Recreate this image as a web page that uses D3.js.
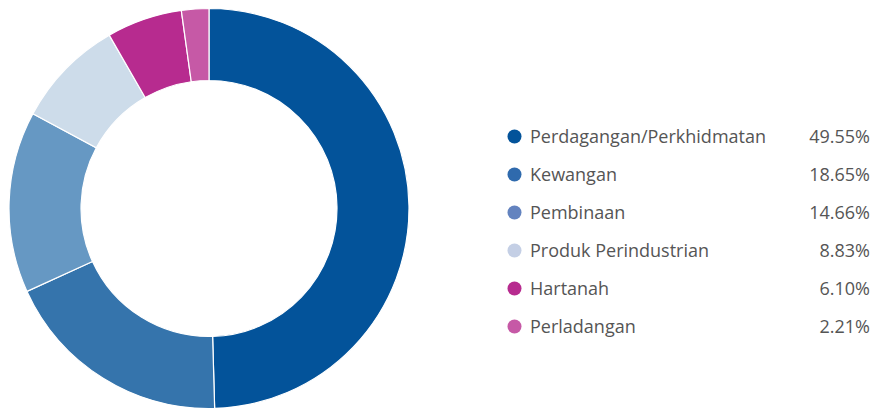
<!DOCTYPE html>
<html>
<head>
<meta charset="utf-8">
<script src="https://cdn.jsdelivr.net/npm/d3@7"></script>
<style>
  body { margin: 0; background: #fff; }
  svg { display: block; }
</style>
</head>
<body>
<div class="container-chart"></div>
<script>
// data
var categories = ["Perdagangan/Perkhidmatan", "Kewangan", "Pembinaan", "Produk Perindustrian", "Hartanah", "Perladangan"];
var values = [49.55, 18.65, 14.66, 8.83, 6.10, 2.21];
var sliceColors = ["#03539a", "#3574ac", "#6698c3", "#cddcea", "#b72b8f", "#c659a6"];
var dotColors = ["#03539a", "#2f6aad", "#6383bf", "#c4cfe5", "#b72b8f", "#c659a6"];

var width = 878;
var height = 408;

var svg = d3.select(".container-chart")
    .append("svg")
    .attr("width", width)
    .attr("height", height);

// donut
var cx = 209, cy = 208.5;
var outerR = 200, innerR = 128;

var pie = d3.pie()
    .sort(null)
    .value(function (d) { return d; });

var arc = d3.arc()
    .innerRadius(innerR)
    .outerRadius(outerR);

var g = svg.append("g")
    .attr("transform", "translate(" + cx + "," + cy + ")");

g.selectAll("path")
    .data(pie(values))
    .enter()
    .append("path")
    .attr("d", arc)
    .attr("fill", function (d, i) { return sliceColors[i]; })
    .attr("stroke", "#fff")
    .attr("stroke-width", 1.2);

// legend
var y = d3.scaleBand()
    .domain(categories)
    .range([117.5, 345.5]);

var legend = svg.append("g")
    .attr("class", "legend")
    .style("font-family", "'Open Sans', sans-serif")
    .style("font-size", "18px")
    .style("fill", "#555");

var rows = legend.selectAll(".row")
    .data(categories)
    .enter()
    .append("g")
    .attr("class", "row")
    .attr("transform", function (d) { return "translate(0," + (y(d) + y.bandwidth() / 2) + ")"; });

rows.append("circle")
    .attr("cx", 514.5)
    .attr("cy", 0)
    .attr("r", 7)
    .attr("fill", function (d, i) { return dotColors[i]; });

rows.append("text")
    .attr("x", 530)
    .attr("dy", "0.35em")
    .text(function (d) { return d; });

rows.append("text")
    .attr("x", 870)
    .attr("dy", "0.35em")
    .attr("text-anchor", "end")
    .text(function (d, i) { return values[i].toFixed(2) + "%"; });
</script>
</body>
</html>
